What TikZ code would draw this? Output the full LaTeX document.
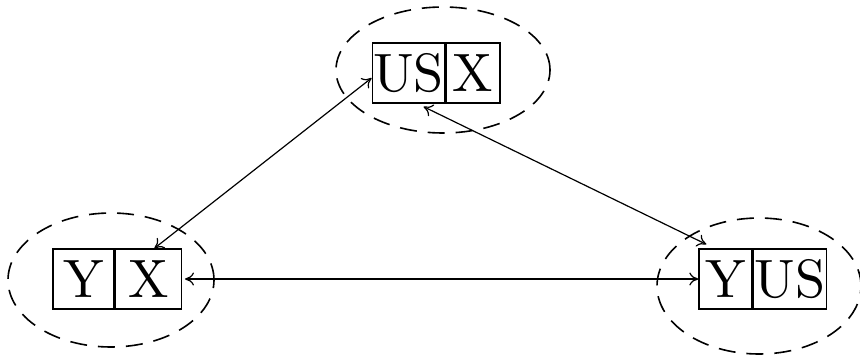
\documentclass[tikz,border=0pt]{standalone}
\usepackage{fontspec}
\setmainfont{lmroman10-regular.otf}
\usetikzlibrary{positioning, arrows.meta}

\begin{document}
\begin{tikzpicture}[x=1pt, y=-1pt,
        cell/.style={draw, line width=1.3pt, minimum height=60pt, minimum width=54pt,
            inner xsep=1pt, inner ysep=0pt, font=\fontsize{54}{60}\selectfont},
        ring/.style={draw, dash pattern=on 17pt off 11pt, line width=1.6pt},
        link/.style={{To[length=9pt,width=13pt]}-{To[length=9pt,width=13pt]}, line width=1.2pt}]
    \useasboundingbox (0,0) rectangle (860,357);
    % Dashed rings round the pairs
    \draw[ring] (443,70) ellipse [x radius=107pt, y radius=63pt];
    \draw[ring] (111,280) ellipse [x radius=103pt, y radius=67pt];
    \draw[ring] (759,286) ellipse [x radius=102pt, y radius=68pt];
    % Top pair
    \node[cell] (usA) at (408.5,73) {US};
    \node[cell, right=0pt of usA] (xA) {X};
    % Left pair
    \node[cell, minimum width=61pt] (yB) at (83.5,279) {Y};
    \node[cell, minimum width=66pt, right=0pt of yB] (xB) {X};
    % Right pair
    \node[cell, minimum width=53pt] (yC) at (725.5,279) {Y};
    \node[cell, minimum width=73pt, right=0pt of yC] (usC) {US};
    % Links
    \draw[link] ([yshift=-5pt]usA.west) -- ([xshift=6pt]xB.north);
    \draw[link] ([xshift=15pt,yshift=-3pt]usA.south) -- ([xshift=8pt,yshift=4pt]yC.north west);
    \draw[link] ([xshift=3pt]xB.east) -- (yC.west);
\end{tikzpicture}
\end{document}
